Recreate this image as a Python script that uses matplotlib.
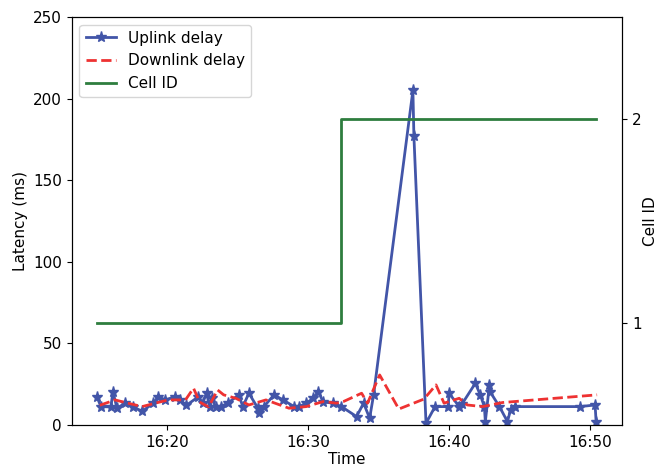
import matplotlib
matplotlib.use("Agg")
import matplotlib.pyplot as plt
import matplotlib.dates as mdates
import pandas as pd

# minutes past 16:00
up_min = [15.00, 15.29, 16.00, 16.14, 16.43, 17.00, 17.57, 18.21, 19.00, 19.36,
          19.86, 20.57, 20.93, 21.36, 22.21, 22.50, 22.79, 23.00, 23.14, 23.43,
          23.79, 24.29, 25.07, 25.36, 25.79, 26.43, 26.50, 26.86, 27.57, 28.21,
          29.00, 29.36, 29.86, 30.36, 30.71, 31.07, 31.79, 32.36, 33.43, 33.93,
          34.36, 34.64, 37.43, 37.50, 38.36, 39.00, 39.93, 40.00, 40.71, 40.93,
          41.86, 42.21, 42.50, 42.57, 42.86, 42.90, 43.57, 44.14, 44.36, 44.64,
          49.29, 50.36, 50.43]
up_ms = [17.3, 11.2, 11.0, 20.4, 10.2, 13.3, 11.2, 8.2, 13.3, 17.3,
         15.3, 17.3, 15.3, 12.0, 17.3, 13.3, 19.4, 11.2, 16.3, 11.2,
         11.2, 13.3, 18.4, 11.2, 19.4, 10.2, 7.1, 11.2, 18.4, 15.3,
         11.2, 11.2, 13.3, 16.3, 20.4, 14.0, 13.3, 11.2, 5.1, 13.3,
         4.1, 18.4, 205.0, 177.0, 1.0, 11.2, 11.2, 19.4, 11.2, 13.0,
         25.5, 18.4, 11.2, 2.0, 24.5, 20.4, 11.2, 2.0, 9.2, 11.2,
         11.2, 12.2, 2.0]

down_min = [15.21, 16.29, 17.21, 18.21, 19.14, 20.07, 21.29, 21.86, 22.29, 22.93,
            23.57, 24.00, 24.86, 25.79, 27.00, 28.64, 29.86, 31.07, 32.00, 32.50,
            33.79, 34.21, 35.07, 36.43, 38.21, 39.07, 39.64, 40.71, 41.29, 42.36,
            43.79, 50.50]
down_ms = [12.0, 15.3, 13.3, 11.2, 13.3, 15.3, 15.3, 22.5, 14.0, 11.0,
           21.4, 18.4, 16.3, 12.2, 15.3, 10.2, 11.2, 14.3, 13.3, 14.3,
           19.4, 13.3, 30.6, 9.7, 15.8, 24.5, 13.3, 16.3, 12.2, 11.2,
           13.7, 18.4]

cell_min = [15.00, 32.36, 50.43]
cell_id = [1, 2, 2]

base = pd.Timestamp("2020-01-01 16:00:00")
to_time = lambda m: [base + pd.Timedelta(minutes=v) for v in m]

fig = plt.figure(figsize=(6.59, 4.70), dpi=100)
ax = fig.add_axes([0.109, 0.096, 0.835, 0.868])
ax2 = ax.twinx()

l1, = ax.plot(to_time(up_min), up_ms, color="#4255a8", marker="*", markersize=8,
              linewidth=2, label="Uplink delay")
l2, = ax.plot(to_time(down_min), down_ms, color="#ee3232", linestyle="--",
              linewidth=2, label="Downlink delay")
l3, = ax2.plot(to_time(cell_min), cell_id, color="#2e7d3e", linewidth=2,
               drawstyle="steps-post", label="Cell ID")

ax.set_ylim(0, 250)
ax2.set_ylim(0.5, 2.5)
ax2.set_yticks([1, 2])
ax.xaxis.set_major_locator(mdates.MinuteLocator(byminute=[0, 10, 20, 30, 40, 50]))
ax.xaxis.set_major_formatter(mdates.DateFormatter("%H:%M"))

ax.set_xlabel("Time", fontsize=11, labelpad=2)
ax.set_ylabel("Latency (ms)", fontsize=11)
ax2.set_ylabel("Cell ID", fontsize=11, labelpad=1)
ax.tick_params(labelsize=11)
ax2.tick_params(labelsize=11)

ax.legend(handles=[l1, l2, l3], loc="upper left", fontsize=11)

fig.savefig("out.png", dpi=100)
